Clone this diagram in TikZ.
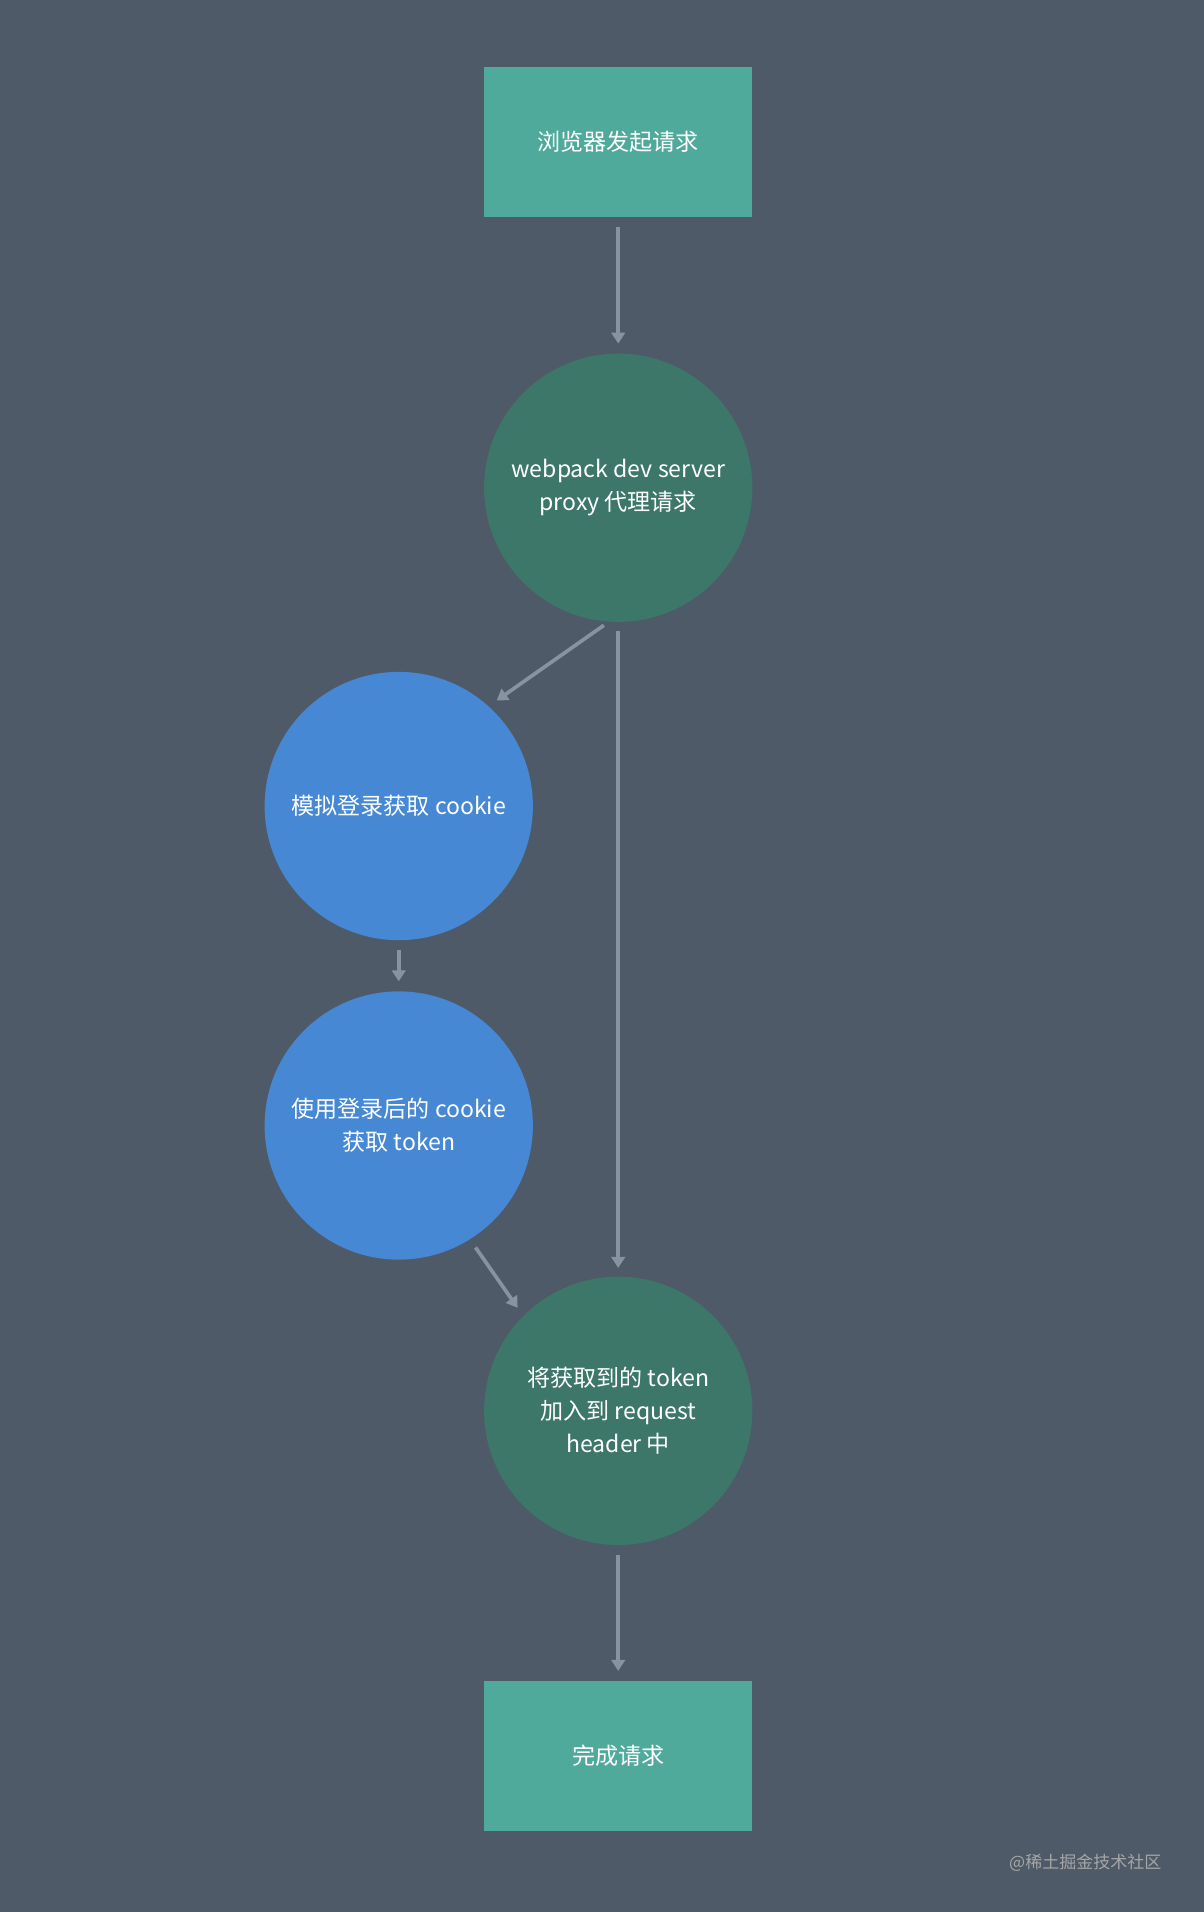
\documentclass[tikz,border=0pt]{standalone}
\usepackage{fontspec}
\setmainfont{Noto Sans CJK SC}
\usetikzlibrary{arrows.meta}
\definecolor{bg}{HTML}{4E5A67}
\definecolor{teal}{HTML}{4FAA9C}
\definecolor{dgreen}{HTML}{3C7769}
\definecolor{blueb}{HTML}{4688D4}
\definecolor{arr}{HTML}{8794A0}
\tikzset{
  rbox/.style={fill=teal, minimum width=220bp, minimum height=123bp, text=white, font=\fontsize{19}{26}\selectfont, inner sep=0},
  circ/.style={circle, minimum size=220bp, text=white, font=\fontsize{19}{27}\selectfont, align=center, inner sep=0},
  conn/.style={draw=arr, line width=3bp, -{Triangle[length=9bp,width=11bp]}},
}
\begin{document}
\begin{tikzpicture}[x=1bp,y=-1bp]
\fill[bg] (0,0) rectangle (987,1568);
\useasboundingbox (0,0) rectangle (987,1568);
\node[rbox] (start) at (507,116.5) {浏览器发起请求};
\node[circ, fill=dgreen] (proxy) at (507,400) {webpack dev server\\proxy 代理请求};
\node[circ, fill=blueb] (login) at (327,661) {模拟登录获取 cookie};
\node[circ, fill=blueb] (token) at (327,923) {使用登录后的 cookie\\获取 token};
\node[circ, fill=dgreen] (add) at (507,1157) {将获取到的 token\\加入到 request\\header 中};
\node[rbox] (done) at (507,1440) {完成请求};
\node[text=gray!70, font=\fontsize{14}{16}\selectfont] (wm) at (890,1528) {@稀土掘金技术社区};
\draw[conn, shorten <=8bp, shorten >=8bp] (start.south) -- (proxy.north);
\draw[conn, shorten <=5bp, shorten >=8bp] (proxy.-94) -- (login.48);
\draw[conn, shorten <=7bp, shorten >=7bp] (proxy.south) -- (add.north);
\draw[conn, shorten <=8bp, shorten >=8bp] (login.south) -- (token.north);
\draw[conn, shorten <=8bp, shorten >=8bp] (token.-58) -- (add.135);
\draw[conn, shorten <=8bp, shorten >=8bp] (add.south) -- (done.north);
\end{tikzpicture}
\end{document}
